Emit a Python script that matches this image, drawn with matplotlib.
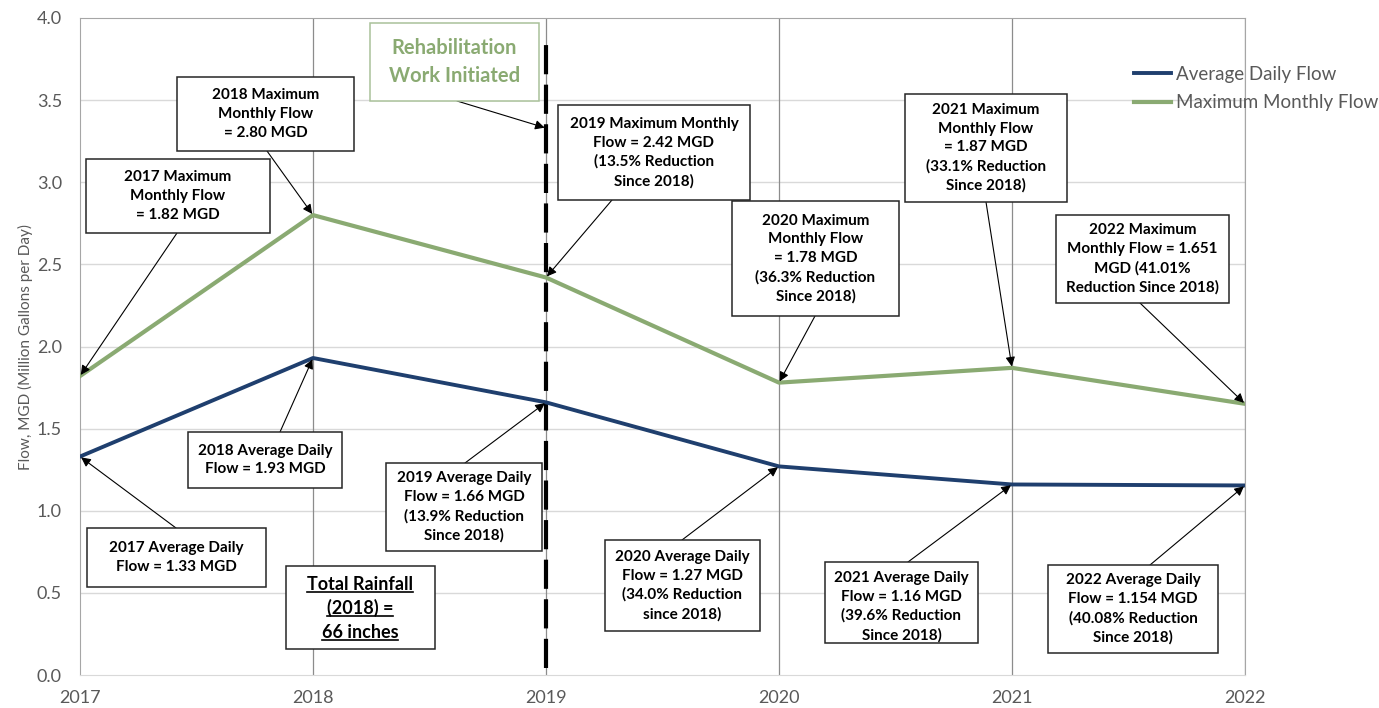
import matplotlib.pyplot as plt
from matplotlib.patches import Rectangle
from matplotlib.lines import Line2D

plt.rcParams['font.family'] = ['Lato', 'DejaVu Sans']

years = [2017, 2018, 2019, 2020, 2021, 2022]
avg_daily = [1.33, 1.93, 1.66, 1.27, 1.16, 1.154]
max_monthly = [1.82, 2.80, 2.42, 1.78, 1.87, 1.651]

max_labels = [
    "2017 Maximum\nMonthly Flow\n= 1.82 MGD",
    "2018 Maximum\nMonthly Flow\n= 2.80 MGD",
    "2019 Maximum Monthly\nFlow = 2.42 MGD\n(13.5% Reduction\nSince 2018)",
    "2020 Maximum\nMonthly Flow\n= 1.78 MGD\n(36.3% Reduction\nSince 2018)",
    "2021 Maximum\nMonthly Flow\n= 1.87 MGD\n(33.1% Reduction\nSince 2018)",
    "2022 Maximum\nMonthly Flow = 1.651\nMGD (41.01%\nReduction Since 2018)",
]
avg_labels = [
    "2017 Average Daily\nFlow = 1.33 MGD",
    "2018 Average Daily\nFlow = 1.93 MGD",
    "2019 Average Daily\nFlow = 1.66 MGD\n(13.9% Reduction\nSince 2018)",
    "2020 Average Daily\nFlow = 1.27 MGD\n(34.0% Reduction\nsince 2018)",
    "2021 Average Daily\nFlow = 1.16 MGD\n(39.6% Reduction\nSince 2018)",
    "2022 Average Daily\nFlow = 1.154 MGD\n(40.08% Reduction\nSince 2018)",
]
rain_lines = ["Total Rainfall", "(2018) =", "66 inches"]
rehab_year = 2019

navy = '#1f3f6e'
green = '#8aaa72'
gray_txt = '#595959'

W, H = 1379, 708
L, R, T, B = 80, 1245, 18, 675

fig = plt.figure(figsize=(W / 100, H / 100), dpi=100)
ax = fig.add_axes([L / W, 1 - B / H, (R - L) / W, (B - T) / H])
ax.set_xlim(2017, 2022)
ax.set_ylim(0, 4)


def px(x, y):
    # screen pixel (from top-left) -> data coords
    return 2017 + (x - L) / (R - L) * 5, (B - y) / (B - T) * 4


# grid and frame
for v in [0.5, 1, 1.5, 2, 2.5, 3, 3.5]:
    ax.axhline(v, color='#d9d9d9', lw=1, zorder=0)
for yr in years[1:]:
    ax.axvline(yr, color='#8c8c8c', lw=0.9, zorder=0)
for s in ['top', 'left', 'right']:
    ax.spines[s].set_color('#a6a6a6')
ax.spines['bottom'].set_color('#d9d9d9')

yt = [0, 0.5, 1, 1.5, 2, 2.5, 3, 3.5, 4]
ax.set_yticks(yt)
ax.set_yticklabels([f"{v:.1f}" for v in yt])
ax.set_xticks(years)
ax.set_xticklabels([str(y) for y in years])
ax.tick_params(length=0, labelsize=13, labelcolor=gray_txt)
ax.tick_params(axis='x', pad=11)
ax.tick_params(axis='y', pad=13)
ax.set_ylabel("Flow, MGD (Million Gallons per Day)", fontsize=11, color=gray_txt, labelpad=3)

# rehab dashed line
ax.plot([rehab_year, rehab_year], [0.04, 3.85], color='black', lw=3,
        ls=(0, (7, 2.5)), zorder=3)

l1, = ax.plot(years, avg_daily, color=navy, lw=2.8, zorder=4, label='Average Daily Flow')
l2, = ax.plot(years, max_monthly, color=green, lw=3, zorder=4, label='Maximum Monthly Flow')

ax.legend(handles=[l1, l2], loc='upper left', bbox_to_anchor=(1117 / W, 1 - 49 / H),
          bbox_transform=fig.transFigure, frameon=False, fontsize=13.5,
          labelcolor=gray_txt, handlelength=2.0, handletextpad=0.25, labelspacing=0.6)

arrow_kw = dict(arrowstyle='-|>', color='black', lw=0.8, mutation_scale=14,
                shrinkA=0, shrinkB=1)


def callout(text, box, start, tip, **kw):
    x0, y0 = px(box[0], box[3])
    x1, y1 = px(box[1], box[2])
    ax.add_patch(Rectangle((x0, y0), x1 - x0, y1 - y0, facecolor='white',
                           edgecolor=kw.get('ec', '#262626'), lw=1.1, zorder=6))
    ty = (y0 + y1) / 2 - kw.get('dy', 0)
    ax.text((x0 + x1) / 2, ty, text, ha='center', va='center',
            fontsize=kw.get('fs', 11), fontweight='bold', color=kw.get('color', 'black'),
            linespacing=kw.get('ls', 1.42), zorder=7)
    ax.annotate('', xy=tip, xytext=px(*start), arrowprops=arrow_kw, zorder=5)


# box extents (left, right, top, bottom) and arrow start, in pixels
max_boxes = [(86, 270, 159, 233), (177, 354, 77, 151), (558, 750, 105, 200),
             (732, 899, 201, 316), (905, 1067, 94, 202), (1056, 1229, 215, 303)]
max_starts = [(177, 233), (267, 151), (612, 200), (815, 316), (986, 202), (1140, 303)]
avg_boxes = [(87, 266, 528, 587), (188, 342, 432, 488), (386, 542, 463, 551),
             (605, 760, 540, 631), (825, 978, 562, 643), (1048, 1218, 565, 653)]
avg_starts = [(176, 528), (280, 432), (465, 463), (682, 540), (908, 562), (1150, 565)]
avg_dy = [0, 0, 0, 0, 0.025, 0]

for i, yr in enumerate(years):
    callout(max_labels[i], max_boxes[i], max_starts[i], (yr, max_monthly[i]))
    callout(avg_labels[i], avg_boxes[i], avg_starts[i], (yr, avg_daily[i]), dy=avg_dy[i])

# rehabilitation note
callout("Rehabilitation\nWork Initiated", (370, 539, 23, 101), (457, 101),
        (rehab_year, 3.33), ec='#a9c19a', color=green, fs=14.5, ls=1.5)

# rainfall box with underlined text
rx0, ry0 = px(286, 649)
rx1, ry1 = px(435, 566)
ax.add_patch(Rectangle((rx0, ry0), rx1 - rx0, ry1 - ry0, facecolor='white',
                       edgecolor='#262626', lw=1.1, zorder=6))
rain_txt = []
for j, line in enumerate(rain_lines):
    tx, ty = px(360, 584 + j * 24)
    rain_txt.append(ax.text(tx, ty, line, ha='center', va='center', fontsize=13,
                            fontweight='bold', zorder=7))
fig.canvas.draw()
inv = fig.transFigure.inverted()
for t in rain_txt:
    bb = t.get_window_extent()
    (a, b) = inv.transform((bb.x0, bb.y0 + 1))
    (c, d) = inv.transform((bb.x1, bb.y0 + 1))
    fig.add_artist(Line2D([a, c], [b, d], color='black', lw=1.2, zorder=8))

fig.savefig('out.png', dpi=100)
